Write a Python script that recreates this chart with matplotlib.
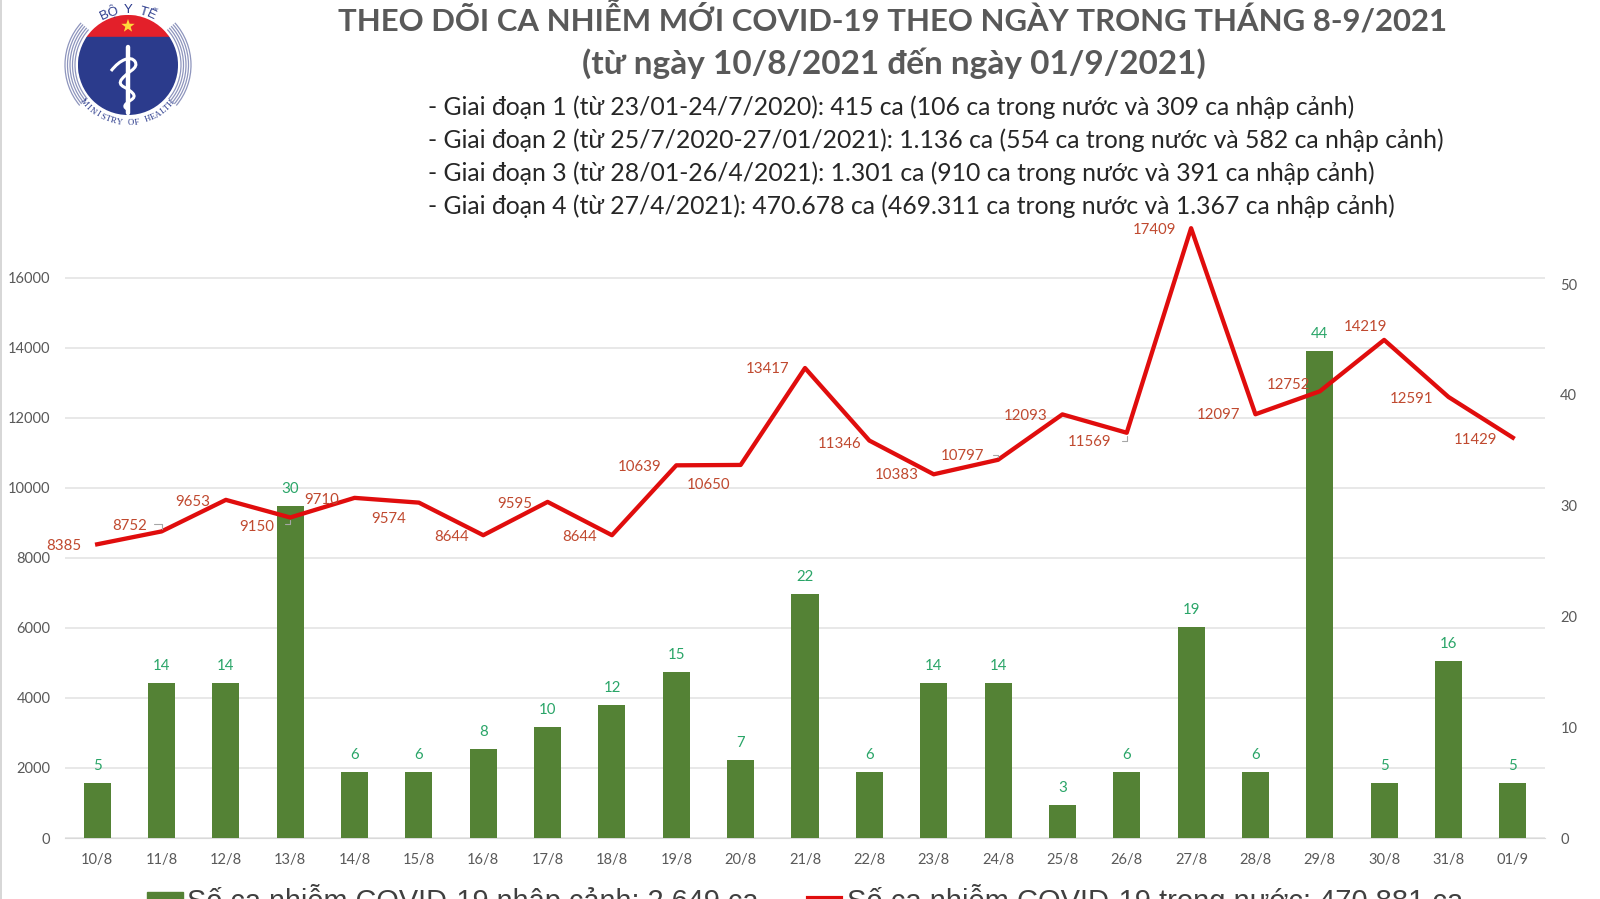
import numpy as np
import matplotlib
matplotlib.use("Agg")
import matplotlib.pyplot as plt
from matplotlib.patches import Circle, Rectangle, Arc, Polygon, PathPatch
from matplotlib.path import Path
from matplotlib.lines import Line2D

W, H = 1600, 899
categories = ["10/8","11/8","12/8","13/8","14/8","15/8","16/8","17/8","18/8","19/8","20/8","21/8",
              "22/8","23/8","24/8","25/8","26/8","27/8","28/8","29/8","30/8","31/8","01/9"]
domestic = [8385,8752,9653,9150,9710,9574,8644,9595,8644,10639,10650,13417,
            11346,10383,10797,12093,11569,17409,12097,12752,14219,12591,11429]
imported = [5,14,14,30,6,6,8,10,12,15,7,22,6,14,14,3,6,19,6,44,5,16,5]
label_offsets = [(-33,-2),(-32,5),(-33,-2),(-33,-10),(-33,-2),(-30,-16),(-32,-2),(-33,-2),(-32,-2),(-37,-2),
                 (-32,-20),(-37,-1),(-30,-3),(-37,-1),(-36,4),(-37,-2),(-37,-9),(-37,-2),(-37,-1),(-31,6),
                 (-19,13),(-37,-2),(-37,-2)]
title = "THEO DÕI CA NHIỄM MỚI COVID-19 THEO NGÀY TRONG THÁNG 8-9/2021"
subtitle = "(từ ngày 10/8/2021 đến ngày 01/9/2021)"
info = ["- Giai đoạn 1 (từ 23/01-24/7/2020): 415 ca (106 ca trong nước và 309 ca nhập cảnh)",
        "- Giai đoạn 2 (từ 25/7/2020-27/01/2021): 1.136 ca (554 ca trong nước và 582 ca nhập cảnh)",
        "- Giai đoạn 3 (từ 28/01-26/4/2021): 1.301 ca (910 ca trong nước và 391 ca nhập cảnh)",
        "- Giai đoạn 4 (từ 27/4/2021): 470.678 ca (469.311 ca trong nước và 1.367 ca nhập cảnh)"]
legend_bar = "Số ca nhiễm COVID-19 nhập cảnh: 2.649 ca"
legend_line = "Số ca nhiễm COVID-19 trong nước: 470.881 ca"

FONT = ["Lato", "Open Sans", "DejaVu Sans"]
plt.rcParams["font.family"] = FONT
fig = plt.figure(figsize=(16, 8.99), dpi=100, facecolor="white")

L, R, T, B = 65, 1545, 225, 838
ax = fig.add_axes([L/W, 1-B/H, (R-L)/W, (B-T)/H])
x = np.arange(len(categories))
ax.set_xlim(-0.5, len(categories)-0.5)
ax.set_ylim(0, 17500)
ax.set_yticks(range(0, 16001, 2000))
ax.set_xticks(x, categories)
ax.grid(axis="y", color="#e2e2e2", lw=1.1)
ax.set_axisbelow(True)
ax.tick_params(length=0, labelsize=10.5, labelcolor="#595959")
ax.tick_params(axis="x", pad=10.5)
ax.tick_params(axis="y", pad=10.5)
for s in ax.spines.values():
    s.set_visible(False)
ax.spines["bottom"].set_visible(True)
ax.spines["bottom"].set_color("#d9d9d9")

axb = ax.twinx()
axb.set_ylim(0, 55.33)
axb.set_yticks(range(0, 51, 10))
axb.tick_params(length=0, labelsize=10.5, labelcolor="#595959", pad=11)
for s in axb.spines.values():
    s.set_visible(False)
axb.bar(x, imported, width=0.42, color="#548235", zorder=2)
for xi, v in zip(x, imported):
    axb.annotate(str(v), (xi, v), xytext=(0, 17), textcoords="offset pixels", ha="center", va="center",
                 fontsize=10.8, color="#2aa568", zorder=3, annotation_clip=False)
axb.plot(x, domestic, color="#e00d0d", lw=3.1, transform=ax.transData, zorder=4, clip_on=False,
         solid_joinstyle="round")
for xi, v, off in zip(x, domestic, label_offsets):
    axb.annotate(str(v), (xi, v), xycoords=ax.transData, xytext=off, textcoords="offset pixels",
                 ha="center", va="center", fontsize=10.8, color="#c0492f", zorder=5, annotation_clip=False)
for i, dx, dy in [(1, -10, 7), (3, -8, -7), (14, -8, 5), (16, -8, -8)]:
    v = domestic[i]
    axb.annotate("", (i, v), xycoords=ax.transData, xytext=(dx, dy), textcoords="offset pixels",
                 arrowprops=dict(arrowstyle="-", color="#a6a6a6", lw=0.8,
                                 connectionstyle="angle,angleA=0,angleB=90,rad=0"),
                 zorder=5, annotation_clip=False)

ov = fig.add_axes([0, 0, 1, 1], facecolor="none")
ov.set_xlim(0, W); ov.set_ylim(H, 0); ov.axis("off")
ov.add_line(Line2D([1, 1], [0, H], color="#d0d0d0", lw=1.2))
ov.text(893, 18, title, ha="center", va="center", fontsize=22.4, fontweight="bold", color="#595959")
ov.text(894, 63.5, subtitle, ha="center", va="center", fontsize=24, fontweight="bold", color="#595959")
for yy, t in zip([107, 140, 173, 206], info):
    ov.text(428, yy, t, ha="left", va="center", fontsize=17.8, color="#262626")

ov.add_patch(Rectangle((147, 892), 36, 12, color="#548235"))
ov.text(187, 910, legend_bar, ha="left", va="baseline", fontsize=20.8, color="#404040", family="Liberation Sans")
ov.add_line(Line2D([808, 841], [898, 898], color="#e00d0d", lw=3))
ov.text(847, 910, legend_line, ha="left", va="baseline", fontsize=21, color="#404040", family="Liberation Sans")

# logo
cx, cy, r = 128, 65, 50
blue, red = "#2b3b8c", "#e3202a"
clip = Circle((cx, cy), r, transform=ov.transData)
red_rect = Rectangle((cx-r, cy-r), 2*r, 20.5, color=red); ov.add_patch(red_rect); red_rect.set_clip_path(clip)
blue_rect = Rectangle((cx-r, 37), 2*r, 80, color=blue); ov.add_patch(blue_rect); blue_rect.set_clip_path(clip)
star = [(cx + (7 if k % 2 == 0 else 2.8)*np.cos(np.deg2rad(-90+36*k)),
         26 + (7 if k % 2 == 0 else 2.8)*np.sin(np.deg2rad(-90+36*k))) for k in range(10)]
ov.add_patch(Polygon(star, closed=True, color="#ffd93b", lw=0))
ov.add_line(Line2D([128, 128], [47, 113], color="white", lw=3.2, solid_capstyle="round"))
snake = [(111,71),(118,62),(132,57),(138,66),(125,75),(118,84),(130,90),(136,97),(126,103),(124,108),(134,112)]
verts, codes = [snake[0]], [Path.MOVETO]
for p0, p1 in zip(snake[1:-1], snake[2:]):
    verts += [p0, ((p0[0]+p1[0])/2, (p0[1]+p1[1])/2)]
    codes += [Path.CURVE3, Path.CURVE3]
ov.add_patch(PathPatch(Path(verts, codes), fc="none", ec="white", lw=2.2))
for rad in [53, 55.5, 58, 60.5, 63]:
    ov.add_patch(Arc((cx, cy), 2*rad, 2*rad, theta1=140, theta2=222, color="#8e95bd", lw=0.9))
    ov.add_patch(Arc((cx, cy), 2*rad, 2*rad, theta1=-42, theta2=40, color="#8e95bd", lw=0.9))
for txt, rad, a0, a1, fs, bottom in [("BỘ Y TẾ", 55, -25, 25, 9.5, False),
                                      ("MINISTRY OF HEALTH", 58, -49, 49, 6.3, True)]:
    for ch, an in zip(txt, np.linspace(a0, a1, len(txt))):
        th = np.deg2rad(an)
        if bottom:
            px, py, rot = cx + rad*np.sin(th), cy + rad*np.cos(th), an
        else:
            px, py, rot = cx + rad*np.sin(th), cy - rad*np.cos(th), -an
        ov.text(px, py, ch, ha="center", va="center", rotation=rot, rotation_mode="anchor",
                fontsize=fs, color="#2b3b8c", family="Liberation Serif" if bottom else "Liberation Sans")

fig.savefig("out.png", dpi=100)
